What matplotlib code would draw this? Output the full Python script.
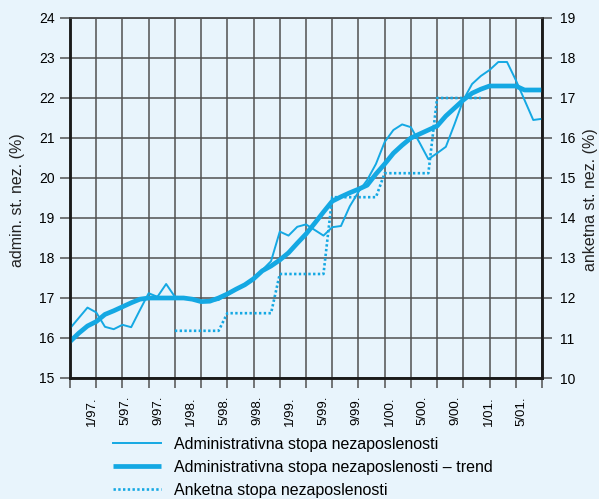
import numpy as np
import matplotlib
matplotlib.use("Agg")
import matplotlib.pyplot as plt
import matplotlib.ticker as mticker

plt.rcParams.update({
    "font.family": ["Liberation Sans", "DejaVu Sans"],
    "font.size": 10,
})

BG_COLOR = "#e8f4fc"
LINE_COLOR = "#14a8e3"
GRID_COLOR = "#505050"

# monthly data, month 0 .. 54
admin_rate = [
    16.24, 16.50, 16.76, 16.64, 16.28, 16.22, 16.33, 16.27, 16.70, 17.12,
    17.03, 17.35, 17.03, 17.02, 16.97, 16.92, 16.92, 16.95, 17.08, 17.20,
    17.35, 17.50, 17.70, 17.92, 18.66, 18.56, 18.78, 18.84, 18.70, 18.56,
    18.77, 18.80, 19.29, 19.65, 19.95, 20.35, 20.90, 21.20, 21.34, 21.27,
    20.88, 20.47, 20.62, 20.78, 21.35, 21.95, 22.35, 22.55, 22.70, 22.90,
    22.90, 22.45, 21.95, 21.45, 21.48,
]
admin_trend = [
    15.91, 16.12, 16.30, 16.41, 16.59, 16.68, 16.78, 16.88, 16.97, 17.00,
    17.00, 17.00, 17.00, 17.00, 16.97, 16.91, 16.92, 17.00, 17.10, 17.22,
    17.33, 17.48, 17.68, 17.80, 17.95, 18.13, 18.37, 18.60, 18.87, 19.15,
    19.42, 19.53, 19.63, 19.72, 19.82, 20.10, 20.35, 20.62, 20.82, 21.00,
    21.10, 21.20, 21.30, 21.55, 21.75, 21.95, 22.12, 22.22, 22.30, 22.30,
    22.30, 22.30, 22.20, 22.20, 22.20,
]
# survey (half-year levels): first and last month of each half-year
survey_start = [12, 18, 24, 30, 36, 42]
survey_end = [17, 23, 29, 35, 41, 47]
survey_rate = [11.18, 11.62, 12.60, 14.52, 15.12, 17.00]

x_labels = ["1/97.", "5/97.", "9/97.", "1/98.", "5/98.", "9/98.", "1/99.",
            "5/99.", "9/99.", "1/00.", "5/00.", "9/00.", "1/01.", "5/01."]

months = np.arange(len(admin_rate))
sx = np.column_stack([survey_start, survey_end]).ravel()
sy = np.repeat(survey_rate, 2)

fig = plt.figure(figsize=(5.99, 4.99), dpi=100, facecolor=BG_COLOR)
ax = fig.add_axes([70 / 599, 1 - 378 / 499, 472 / 599, 360 / 499])
ax.set_facecolor(BG_COLOR)
ax2 = ax.twinx()

l1, = ax.plot(months, admin_rate, color=LINE_COLOR, lw=1.4, zorder=4,
              label="Administrativna stopa nezaposlenosti")
l2, = ax.plot(months, admin_trend, color=LINE_COLOR, lw=3.4, zorder=5,
              solid_capstyle="butt",
              label="Administrativna stopa nezaposlenosti \u2013 trend")
l3, = ax2.plot(sx, sy, color=LINE_COLOR, lw=1.9, ls=(0, (0.9, 0.9)), zorder=4,
               label="Anketna stopa nezaposlenosti")

ax.set_xlim(0, 54)
ax.set_ylim(15, 24)
ax2.set_ylim(10, 19)

# gridlines every 3 months, labels on their own positions
ax.set_xticks(np.arange(0, 55, 3))
ax.set_xticklabels([])
ax.set_xticks(np.linspace(2.5, 51.7, len(x_labels)), x_labels, minor=True)
ax.tick_params(axis="x", which="minor", length=0, pad=13, labelsize=9.5,
               labelrotation=90)
ax.tick_params(axis="x", which="major", length=7, width=1.1, color=GRID_COLOR,
               direction="out")
ax.yaxis.set_major_locator(mticker.MultipleLocator(1))
ax.tick_params(axis="y", length=7, width=1.1, color=GRID_COLOR, pad=4,
               labelsize=10)
ax2.yaxis.set_major_locator(mticker.MultipleLocator(1))
ax2.tick_params(axis="y", length=7, width=1.1, color=GRID_COLOR, pad=6,
                labelsize=10)

ax.grid(True, which="major", color=GRID_COLOR, lw=1.1, zorder=0)
ax.set_axisbelow(True)

for a in (ax, ax2):
    for side in ("left", "bottom", "right"):
        a.spines[side].set_linewidth(1.8)
        a.spines[side].set_color("#1a1a1a")
    a.spines["top"].set_linewidth(1.1)
    a.spines["top"].set_color(GRID_COLOR)

fig.text(17.5 / 599, 1 - 200 / 499, "admin. st. nez. (%)", rotation=90,
         ha="center", va="center", fontsize=11.5, color="#222222")
fig.text(590 / 599, 1 - 200 / 499, "anketna st. nez. (%)", rotation=90,
         ha="center", va="center", fontsize=11.5, color="#222222")

fig.legend(handles=[l1, l2, l3], loc="upper left",
           bbox_to_anchor=(113 / 599, 1 - 437 / 499), frameon=False,
           fontsize=11.5, handlelength=3.0, handletextpad=0.8,
           labelspacing=0.5, borderpad=0, borderaxespad=0)

fig.savefig("out.png", dpi=100, facecolor=BG_COLOR)
